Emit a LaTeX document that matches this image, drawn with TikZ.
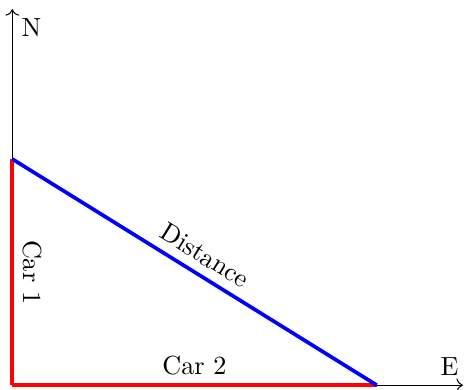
\documentclass[tikz,border=0pt]{standalone}
\usepackage{tikz}
\usetikzlibrary{arrows.meta}

\begin{document}
\begin{tikzpicture}[
        % Define styles for the axes, the paths and their labels
        axis/.style={->, thin},
        car_path/.style={red, line width=1.4pt},
        dist_line/.style={blue, line width=1.4pt},
        path_lbl/.style={text=black}
    ]

    % Fix the margins of the picture
    \useasboundingbox (-4.7pt,-1.5pt) rectangle (172.4pt,147pt);

    % Corner points of the triangle and the ends of the axes
    \coordinate (origin) at (0,0);
    \coordinate (north_end) at (0,143.5pt);
    \coordinate (east_end) at (172pt,0);
    \coordinate (car1_pos) at (0,86.3pt);
    \coordinate (car2_pos) at (139.1pt,0);

    % Axes
    \draw [axis] (origin) -- (north_end) node (north_lbl) [below right] {N};
    \draw [axis] (origin) -- (east_end) node (east_lbl) [above left, inner xsep=1.5pt] {E};

    % Paths of the two cars
    \draw [car_path] (car1_pos) -- node (car1_lbl) [path_lbl, sloped, above] {Car 1} (origin);
    \draw [car_path] (origin) -- node (car2_lbl) [path_lbl, above] {Car 2} (car2_pos);

    % Distance between the cars
    \draw [dist_line] (car1_pos) -- node (dist_lbl) [path_lbl, sloped, above] {Distance} (car2_pos);

\end{tikzpicture}
\end{document}
